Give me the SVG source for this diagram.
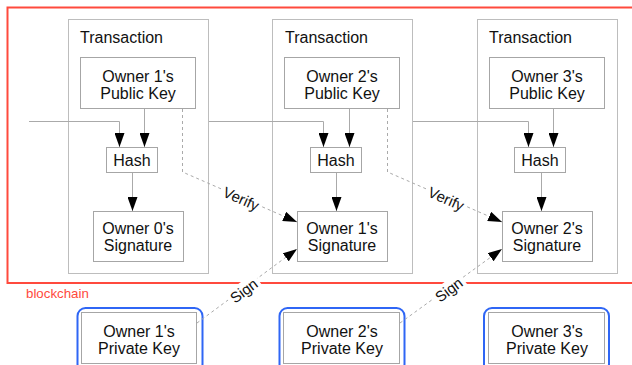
<svg xmlns="http://www.w3.org/2000/svg" width="632" height="365" viewBox="0 0 632 365">
<defs>
<style>
text{font-family:"Liberation Sans",Arial,Helvetica,sans-serif;fill:#111;}
.t{font-size:16px;}
.c{font-size:16px;text-anchor:middle;}
.lbl{font-size:15px;text-anchor:middle;}
.tx{fill:#fff;stroke:#bdbdbd;stroke-width:1;}
.bx{fill:#fff;stroke:#a6a6a6;stroke-width:1;}
.pk{fill:#fff;stroke:#2f66f5;stroke-width:2;}
.ln{fill:none;stroke:#aaa;stroke-width:1;}
.dl{fill:none;stroke:#aaa;stroke-width:1;stroke-dasharray:3,3;}
</style>
<marker id="ah" viewBox="0 0 14 10" refX="14" refY="5" markerWidth="14" markerHeight="10" markerUnits="userSpaceOnUse" orient="auto">
<path d="M0,0 L14,5 L0,10 z" fill="#000"/>
</marker>
</defs>
<rect width="632" height="365" fill="#fff"/>
<g id="blockchain">
<rect x="7.5" y="7.5" width="640" height="275.5" fill="none" stroke="#ff4a3d" stroke-width="2"/>
<text x="26" y="298" style="font-size:13.3px;fill:#ff4a3d">blockchain</text>
</g>
<g id="tx1">
<rect class="tx" x="68.5" y="19.5" width="140" height="254"/>
<text class="t" x="80" y="43">Transaction</text>
</g>
<g id="tx2">
<rect class="tx" x="272.5" y="19.5" width="140" height="254"/>
<text class="t" x="285" y="43">Transaction</text>
</g>
<g id="tx3">
<rect class="tx" x="477.5" y="19.5" width="140" height="254"/>
<text class="t" x="489" y="43">Transaction</text>
</g>
<g id="pub1">
<rect class="bx" x="80.5" y="57.5" width="115" height="51"/>
<text class="c" x="138" y="82">Owner 1's</text>
<text class="c" x="138" y="99">Public Key</text>
</g>
<g id="pub2">
<rect class="bx" x="284.5" y="57.5" width="115" height="51"/>
<text class="c" x="342" y="82">Owner 2's</text>
<text class="c" x="342" y="99">Public Key</text>
</g>
<g id="pub3">
<rect class="bx" x="489.5" y="57.5" width="115" height="51"/>
<text class="c" x="547" y="82">Owner 3's</text>
<text class="c" x="547" y="99">Public Key</text>
</g>
<g id="hash1">
<rect class="bx" x="106.5" y="147.5" width="51" height="25"/>
<text class="c" x="132" y="166">Hash</text>
</g>
<g id="hash2">
<rect class="bx" x="310.5" y="147.5" width="51" height="25"/>
<text class="c" x="336" y="166">Hash</text>
</g>
<g id="hash3">
<rect class="bx" x="514.5" y="147.5" width="51" height="25"/>
<text class="c" x="540" y="166">Hash</text>
</g>
<g id="sig0">
<rect class="bx" x="93.5" y="211.5" width="90" height="50"/>
<text class="c" x="138" y="234">Owner 0's</text>
<text class="c" x="138" y="251">Signature</text>
</g>
<g id="sig1">
<rect class="bx" x="297.5" y="211.5" width="90" height="50"/>
<text class="c" x="342" y="234">Owner 1's</text>
<text class="c" x="342" y="251">Signature</text>
</g>
<g id="sig2">
<rect class="bx" x="502.5" y="211.5" width="90" height="50"/>
<text class="c" x="547" y="234">Owner 2's</text>
<text class="c" x="547" y="251">Signature</text>
</g>
<g id="priv1">
<rect class="pk" x="77.5" y="308" width="125" height="64" rx="8"/>
<rect class="bx" x="81.5" y="312.5" width="115" height="51"/>
<text class="c" x="139" y="337">Owner 1's</text>
<text class="c" x="139" y="354">Private Key</text>
</g>
<g id="priv2">
<rect class="pk" x="279.5" y="308" width="125" height="64" rx="8"/>
<rect class="bx" x="283.5" y="312.5" width="116" height="51"/>
<text class="c" x="342" y="337">Owner 2's</text>
<text class="c" x="342" y="354">Private Key</text>
</g>
<g id="priv3">
<rect class="pk" x="484" y="308" width="125" height="64" rx="8"/>
<rect class="bx" x="488.5" y="312.5" width="116" height="51"/>
<text class="c" x="547" y="337">Owner 3's</text>
<text class="c" x="547" y="354">Private Key</text>
</g>
<g id="connectors">
<path class="ln" d="M29,121.5 H119.5 V147" marker-end="url(#ah)"/>
<path class="ln" d="M144.5,109 V147" marker-end="url(#ah)"/>
<path class="ln" d="M132.5,173 V211" marker-end="url(#ah)"/>
<path class="ln" d="M209,121.5 H323.5 V147" marker-end="url(#ah)"/>
<path class="ln" d="M349.5,109 V147" marker-end="url(#ah)"/>
<path class="ln" d="M336.5,173 V211" marker-end="url(#ah)"/>
<path class="ln" d="M413,121.5 H528.5 V147" marker-end="url(#ah)"/>
<path class="ln" d="M553.5,109 V147" marker-end="url(#ah)"/>
<path class="ln" d="M541.5,173 V211" marker-end="url(#ah)"/>
<path class="dl" d="M182.5,109 V172 L297,222" marker-end="url(#ah)"/>
<path class="dl" d="M387.5,109 V172 L502,222" marker-end="url(#ah)"/>
<path class="dl" d="M197,323 L297,249" marker-end="url(#ah)"/>
<path class="dl" d="M400,323 L502,249" marker-end="url(#ah)"/>
<g transform="translate(241,199) rotate(24)">
<rect x="-22" y="-9" width="44" height="18" fill="#fff"/>
<text class="lbl" x="0" y="5">Verify</text>
</g>
<g transform="translate(446,199) rotate(24)">
<rect x="-22" y="-9" width="44" height="18" fill="#fff"/>
<text class="lbl" x="0" y="5">Verify</text>
</g>
<g transform="translate(244,291) rotate(-36.5)">
<rect x="-18" y="-9" width="36" height="18" fill="#fff"/>
<text class="lbl" x="0" y="5">Sign</text>
</g>
<g transform="translate(449,290) rotate(-36.5)">
<rect x="-18" y="-9" width="36" height="18" fill="#fff"/>
<text class="lbl" x="0" y="5">Sign</text>
</g>
</g>
</svg>
